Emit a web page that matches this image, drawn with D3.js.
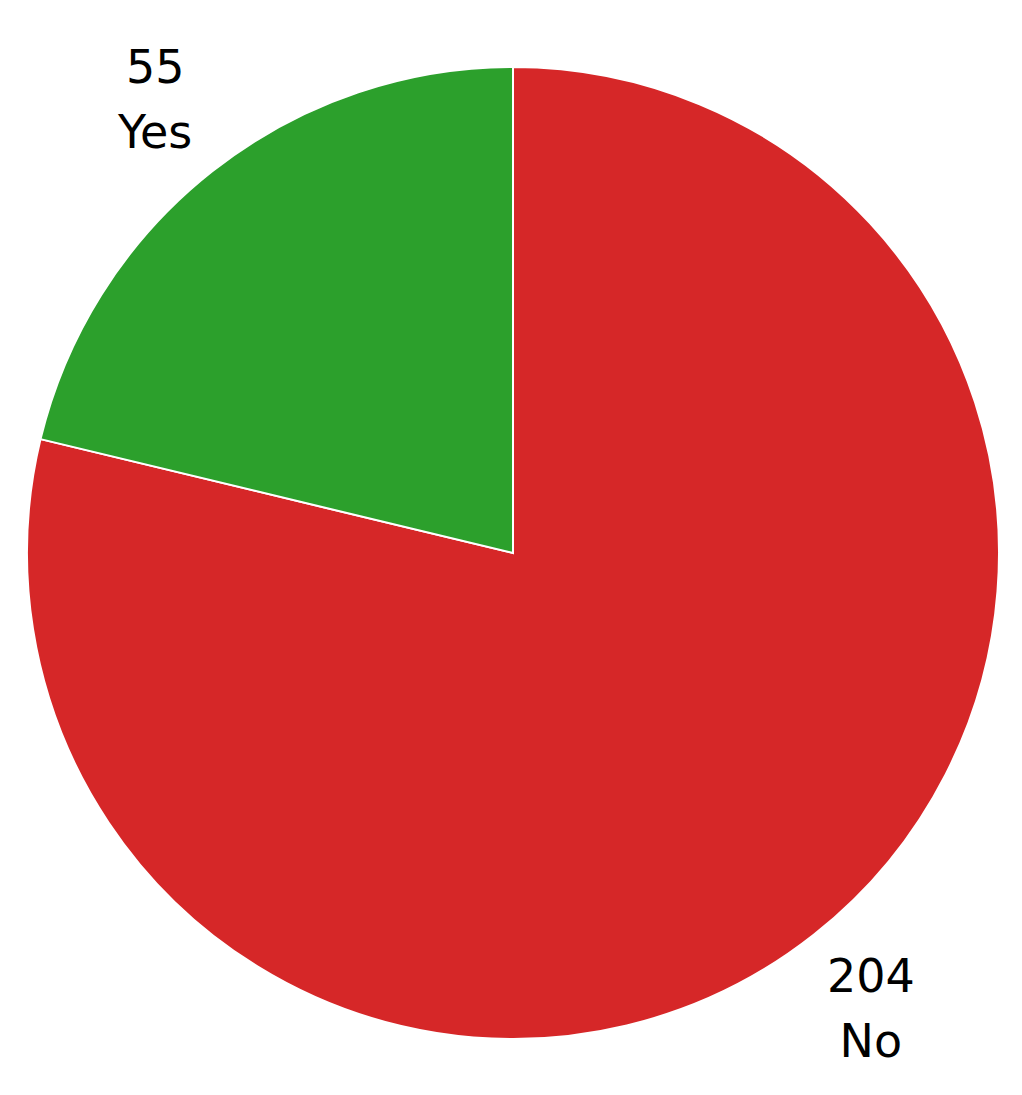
<!DOCTYPE html>
<html>
<head>
<meta charset="utf-8">
<script src="https://cdn.jsdelivr.net/npm/d3@7"></script>
<style>
  body { margin: 0; background: #fff; }
  text { font-family: "DejaVu Sans", Verdana, sans-serif; fill: #000; }
</style>
</head>
<body>
<div id="chart-area"></div>
<script>
// data
var labels = ["No", "Yes"];
var counts = [204, 55];
var colors = ["#d62728", "#2ca02c"];

var width = 1022, height = 1095;
var cx = 513, cy = 553, radius = 486;

var svg = d3.select("#chart-area")
    .append("svg")
    .attr("width", width)
    .attr("height", height);

var g = svg.append("g")
    .attr("transform", "translate(" + cx + "," + cy + ")");

var data = labels.map(function(l, i) {
    return { label: l, value: counts[i], color: colors[i] };
});

var pie = d3.pie()
    .sort(null)
    .value(function(d) { return d.value; });

var arc = d3.arc()
    .innerRadius(0)
    .outerRadius(radius);

// labels sit outside the pie, along each slice's mid angle
var labelArc = d3.arc()
    .innerRadius(radius * 1.19)
    .outerRadius(radius * 1.19);

var slices = g.selectAll(".slice")
    .data(pie(data))
    .enter().append("g")
    .attr("class", "slice");

slices.append("path")
    .attr("d", arc)
    .attr("fill", function(d) { return d.data.color; })
    .attr("stroke", "#fff")
    .attr("stroke-width", 2);

var lbl = slices.append("text")
    .attr("transform", function(d) {
        var c = labelArc.centroid(d);
        return "translate(" + c[0] + "," + c[1] + ")";
    })
    .attr("text-anchor", "middle")
    .attr("font-size", "46px");

lbl.append("tspan")
    .attr("x", 0)
    .attr("dy", "-0.34em")
    .text(function(d) { return d.data.value; });
lbl.append("tspan")
    .attr("x", 0)
    .attr("dy", "1.41em")
    .text(function(d) { return d.data.label; });
</script>
</body>
</html>
